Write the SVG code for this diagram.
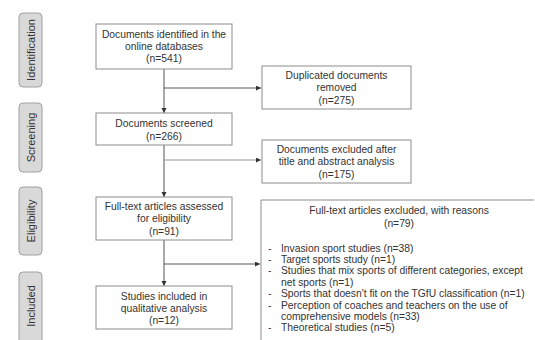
<svg xmlns="http://www.w3.org/2000/svg" width="535" height="340" viewBox="0 0 535 340">
<defs>
<style>
text{font-family:"Liberation Sans",Arial,sans-serif;fill:#333;font-size:10.3px}
.c{text-anchor:middle}
.stage rect{fill:#d9d9d9;stroke:#a0a0a0;stroke-width:1}
.stage text{font-size:11px;text-anchor:middle}
.box rect{fill:#fff;stroke:#8c8c8c;stroke-width:1}
.conn line{stroke:#555;stroke-width:1}
</style>
<marker id="ah" markerUnits="userSpaceOnUse" markerWidth="6" markerHeight="6" refX="5" refY="2.5" orient="auto">
<path d="M0,0 L5,2.5 L0,5 z" fill="#333"/>
</marker>
</defs>
<rect width="535" height="340" fill="#fff"/>

<g id="stage-identification" class="stage">
<rect x="19" y="13" width="23" height="74" rx="4"/>
<text transform="translate(34.5,50) rotate(-90)">Identification</text>
</g>
<g id="stage-screening" class="stage">
<rect x="19" y="103" width="23" height="69" rx="4"/>
<text transform="translate(34.5,137.5) rotate(-90)">Screening</text>
</g>
<g id="stage-eligibility" class="stage">
<rect x="19" y="187" width="23" height="68" rx="4"/>
<text transform="translate(34.5,221) rotate(-90)">Eligibility</text>
</g>
<g id="stage-included" class="stage">
<rect x="19" y="272" width="23" height="80" rx="4"/>
<text transform="translate(34.5,306) rotate(-90)">Included</text>
</g>

<g id="conns" class="conn">
<line x1="164" y1="69" x2="164" y2="113" marker-end="url(#ah)"/>
<line x1="164" y1="88" x2="261" y2="88" marker-end="url(#ah)"/>
<line x1="164" y1="145" x2="164" y2="197" marker-end="url(#ah)"/>
<line x1="164" y1="160" x2="261" y2="160" marker-end="url(#ah)" style="stroke:#999"/>
<line x1="164" y1="240" x2="164" y2="286" marker-end="url(#ah)"/>
<line x1="164" y1="264" x2="260" y2="264" marker-end="url(#ah)"/>
</g>

<g id="n-identified" class="box">
<rect x="96" y="24" width="136" height="45"/>
<text class="c" x="164" y="37.5">Documents identified in the</text>
<text class="c" x="164" y="49.5">online databases</text>
<text class="c" x="164" y="62">(n=541)</text>
</g>
<g id="n-duplicated" class="box">
<rect x="262" y="66" width="149" height="43"/>
<text class="c" x="336.5" y="79">Duplicated documents</text>
<text class="c" x="336.5" y="91">removed</text>
<text class="c" x="336.5" y="104">(n=275)</text>
</g>
<g id="n-screened" class="box">
<rect x="96" y="113" width="136" height="32"/>
<text class="c" x="164" y="126.5">Documents screened</text>
<text class="c" x="164" y="140">(n=266)</text>
</g>
<g id="n-excluded" class="box">
<rect x="262" y="140" width="149" height="43"/>
<text class="c" x="336.5" y="152.5">Documents excluded after</text>
<text class="c" x="336.5" y="165">title and abstract analysis</text>
<text class="c" x="336.5" y="178">(n=175)</text>
</g>
<g id="n-fulltext" class="box">
<rect x="96" y="197" width="136" height="43"/>
<text class="c" x="164" y="209.5">Full-text articles assessed</text>
<text class="c" x="164" y="222">for eligibility</text>
<text class="c" x="164" y="235">(n=91)</text>
</g>
<g id="n-included" class="box">
<rect x="96" y="286" width="136" height="43"/>
<text class="c" x="164" y="299.5">Studies included in</text>
<text class="c" x="164" y="311.5">qualitative analysis</text>
<text class="c" x="164" y="324">(n=12)</text>
</g>
<g id="n-reasons">
<path d="M261,345 V200 H534" fill="none" stroke="#8c8c8c"/>
<text class="c" x="399" y="214">Full-text articles excluded, with reasons</text>
<text class="c" x="399" y="227">(n=79)</text>
<text x="268" y="251.5">-</text><text x="281" y="251.5">Invasion sport studies (n=38)</text>
<text x="268" y="262.5">-</text><text x="281" y="262.5">Target sports study (n=1)</text>
<text x="268" y="274">-</text><text x="281" y="274">Studies that mix sports of different categories, except</text>
<text x="281" y="285.5">net sports (n=1)</text>
<text x="268" y="297">-</text><text x="281" y="297">Sports that doesn't fit on the TGfU classification (n=1)</text>
<text x="268" y="308.5">-</text><text x="281" y="308.5">Perception of coaches and teachers on the use of</text>
<text x="281" y="319.5">comprehensive models (n=33)</text>
<text x="268" y="331">-</text><text x="281" y="331">Theoretical studies (n=5)</text>
</g>
</svg>
